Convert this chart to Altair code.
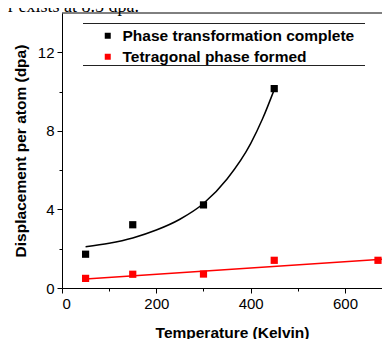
import altair as alt
import pandas as pd

# ---- data ----
series = ["Phase transformation complete", "Tetragonal phase formed"]
series_colors = ["#000000", "#ff0000"]

temp_complete = [50, 150, 300, 450]
dpa_complete = [1.72, 3.22, 4.23, 10.15]

temp_tetra = [50, 150, 300, 450, 670]
dpa_tetra = [0.49, 0.70, 0.71, 1.41, 1.41]

curve_temp = [50, 100, 150, 200, 250, 300, 350, 400, 425, 450]
curve_dpa = [2.10, 2.28, 2.55, 2.95, 3.50, 4.30, 5.55, 7.35, 8.60, 10.10]

fit_temp = [50, 678.5]
fit_dpa = [0.46, 1.47]

x_ticks = [0, 100, 200, 300, 400, 500, 600]
y_ticks = [0, 2, 4, 6, 8, 10, 12]

caption = "r exists at 8.5 dpa."

# ---- layout ----
W, H = 320, 275
FONT = "Liberation Sans"

points_df = pd.DataFrame({
    "T": temp_complete + temp_tetra,
    "dpa": dpa_complete + dpa_tetra,
    "series": [series[0]] * len(temp_complete) + [series[1]] * len(temp_tetra),
})
curve_df = pd.DataFrame({"T": curve_temp, "dpa": curve_dpa})
fit_df = pd.DataFrame({"T": fit_temp, "dpa": fit_dpa})
one = pd.DataFrame({"k": [0]})

xscale = alt.Scale(domain=[0, 678.5], nice=False, zero=False)
yscale = alt.Scale(domain=[0, 14], nice=False)

xaxis = alt.Axis(
    values=x_ticks,
    labelExpr="datum.value % 200 === 0 ? datum.label : ''",
    title="Temperature (Kelvin)",
    titleX=170,
    titlePadding=14,
    tickSize={"condition": {"test": "datum.value % 200 === 0", "value": 5}, "value": 3},
    labelPadding=3,
    grid=False,
)
yaxis = alt.Axis(
    values=y_ticks,
    labelExpr="datum.value % 4 === 0 ? datum.label : ''",
    title="Displacement per atom (dpa)",
    titlePadding=9,
    tickSize={"condition": {"test": "datum.value % 4 === 0", "value": 5}, "value": 3},
    labelPadding=3,
    grid=False,
)

x_enc = alt.X("T:Q", scale=xscale, axis=xaxis)
y_enc = alt.Y("dpa:Q", scale=yscale, axis=yaxis)

fit_line = alt.Chart(fit_df).mark_line(color="#ff0000", strokeWidth=1.5).encode(
    x=alt.X("T:Q", scale=xscale), y=alt.Y("dpa:Q", scale=yscale)
)
curve_line = alt.Chart(curve_df).mark_line(
    color="#000000", strokeWidth=1.5, interpolate="monotone"
).encode(x=alt.X("T:Q", scale=xscale), y=alt.Y("dpa:Q", scale=yscale))

points = alt.Chart(points_df).mark_point(
    shape="square", filled=True, size=52, opacity=1
).encode(
    x=x_enc,
    y=y_enc,
    color=alt.Color(
        "series:N",
        scale=alt.Scale(domain=series, range=series_colors),
        legend=alt.Legend(
            orient="none",
            legendX=38,
            legendY=15,
            title=None,
            symbolType="square",
            symbolSize=36,
            symbolStrokeWidth=0,
            labelFont=FONT,
            labelFontSize=15.5,
            labelFontWeight="bold",
            labelColor="#000000",
            labelLimit=400,
            labelOffset=7,
            rowPadding=4,
            padding=0,
        ),
    ),
)

top_border = alt.Chart(one).mark_rule(color="#000000", strokeWidth=1).encode(
    x=alt.value(0), x2=alt.value(W), y=alt.value(0)
)
legend_top = alt.Chart(one).mark_rule(color="#222222", strokeWidth=1).encode(
    x=alt.value(21), x2=alt.value(303), y=alt.value(10.5)
)
legend_bottom = alt.Chart(one).mark_rule(color="#222222", strokeWidth=1).encode(
    x=alt.value(21), x2=alt.value(303), y=alt.value(52.5)
)
caption_text = alt.Chart(one).mark_text(
    align="left", baseline="alphabetic", font="Liberation Serif", fontSize=18, color="#000000"
).encode(x=alt.value(-54), y=alt.value(-1), text=alt.value(caption))

chart = (
    alt.layer(fit_line, curve_line, points, top_border, legend_top, legend_bottom, caption_text)
    .properties(
        width=W,
        height=H,
        autosize=alt.AutoSizeParams(type="none"),
        padding={"left": 54, "top": 5, "right": 0, "bottom": 51},
    )
    .configure_view(stroke=None)
    .configure_axis(
        labelFont=FONT,
        labelFontSize=15,
        labelColor="#000000",
        titleFont=FONT,
        titleFontSize=15.5,
        titleFontWeight="bold",
        titleColor="#000000",
        domainColor="#000000",
        tickColor="#000000",
        domainWidth=1,
        tickWidth=1,
    )
)

chart.save("out.html", embed_options={"renderer": "svg", "actions": False})
